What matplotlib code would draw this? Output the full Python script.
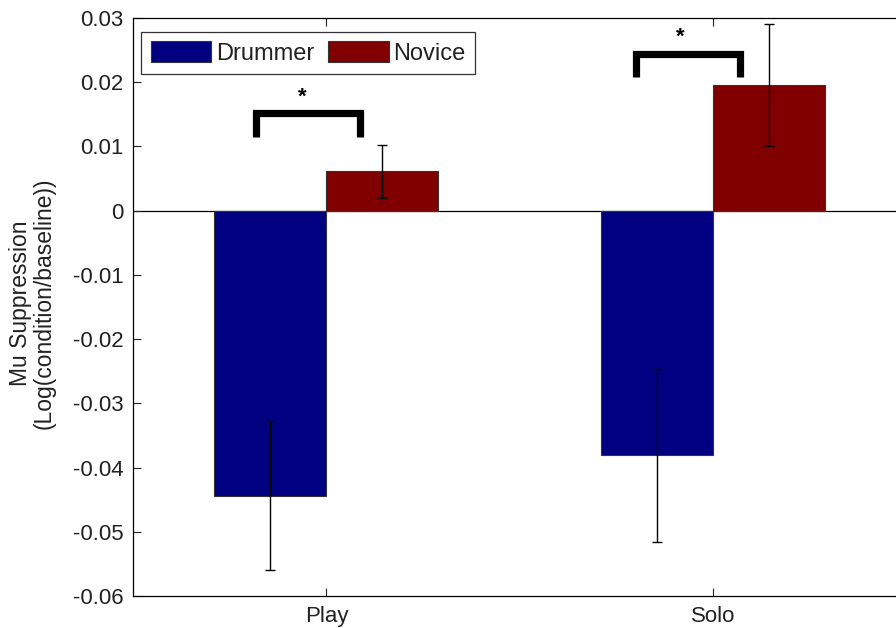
import matplotlib
matplotlib.use("Agg")
import matplotlib.pyplot as plt
import numpy as np

plt.rcParams['font.family'] = ['Liberation Sans', 'DejaVu Sans']

categories = ["Play", "Solo"]
groups = ["Drummer", "Novice"]
drummer = [-0.0444, -0.0381]
novice = [0.0061, 0.0195]
drummer_err = [0.0116, 0.0135]
novice_err = [0.0042, 0.0095]
yticks = [0.03, 0.02, 0.01, 0, -0.01, -0.02, -0.03, -0.04, -0.05, -0.06]
ytick_labels = ["0.03", "0.02", "0.01", "0", "-0.01", "-0.02", "-0.03", "-0.04", "-0.05", "-0.06"]

# significance brackets (x-left, x-right, y-top, y-leg)
brackets = [(0.817, 1.087, 0.01513, 0.01148), (1.80, 2.0685, 0.02432, 0.02081)]
stars = [(0.937, 0.0176), (1.915, 0.0270)]

fig = plt.figure(figsize=(8.96, 6.28), dpi=100)
ax = fig.add_axes([133/896, 32/628, (906.5-133)/896, 578/628])

x = np.arange(1, len(categories) + 1)
w = 0.2894
colors = ["#000080", "#800000"]
ax.bar(x - w/2, drummer, w, color=colors[0], edgecolor="#333333", linewidth=0.8, label=groups[0], zorder=2)
ax.bar(x + w/2, novice, w, color=colors[1], edgecolor="#333333", linewidth=0.8, label=groups[1], zorder=2)
ax.errorbar(x - w/2, drummer, yerr=drummer_err, fmt='none', ecolor='black', elinewidth=1.0, capsize=3.3, capthick=1.0, zorder=3)
ax.errorbar(x + w/2, novice, yerr=novice_err, fmt='none', ecolor='black', elinewidth=1.0, capsize=3.3, capthick=1.0, zorder=3)
ax.axhline(0, color='black', linewidth=0.9, zorder=1)

for (xl, xr, yt, yl) in brackets:
    ax.plot([xl, xl, xr, xr], [yl, yt, yt, yl], color='black', linewidth=5.2,
            solid_joinstyle='miter', solid_capstyle='butt', zorder=4)
for (sx, sy) in stars:
    ax.text(sx, sy, "*", ha='center', va='center', fontsize=16, fontweight='bold')

ax.set_xlim(0.5, 2.5)
ax.set_ylim(-0.06, 0.03)
ax.set_xticks(x)
ax.set_xticklabels(categories, fontsize=16)
ax.set_yticks(yticks)
ax.set_yticklabels(ytick_labels, fontsize=16)
ax.tick_params(direction='in', length=6, width=0.8, top=True, right=True, colors='#222222', pad=7)
for s in ax.spines.values():
    s.set_linewidth(0.9)
ax.set_ylabel("Mu Suppression\n(Log(condition/baseline))", fontsize=16.5, color='#222222', linespacing=1.05)
ax.yaxis.set_label_coords(-0.0995, 0.507)

leg = ax.legend(loc='upper left', ncol=2, fontsize=17, frameon=True, fancybox=False,
                edgecolor='black', handlelength=2.58, handleheight=0.97, handletextpad=0.21,
                columnspacing=0.55, borderpad=0.4, bbox_to_anchor=(0.0105, 0.976), borderaxespad=0)
leg.get_frame().set_linewidth(0.9)
for t in leg.get_texts():
    t.set_color('#222222')

fig.savefig("out.png", dpi=100)
